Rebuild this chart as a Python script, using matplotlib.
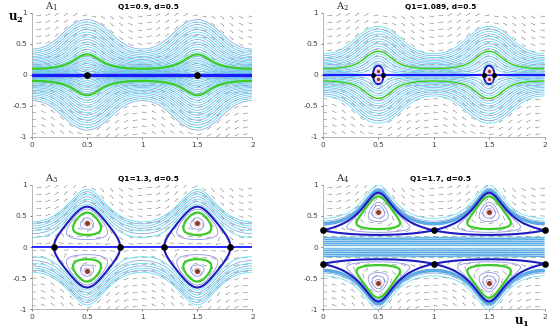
import numpy as np
import matplotlib.pyplot as plt

plt.rcParams["mathtext.fontset"] = "dejavuserif"
plt.rcParams["contour.negative_linestyle"] = "solid"

q1_values = ["0.9", "1.089", "1.3", "1.7"]
d_value = "0.5"

# coefficients of the first integral H(u1, u2) used for each panel
alpha = [0.62, 0.478, -0.0487, -0.265]
beta1 = [0.559, 0.5, 0.1575, 0.0]
beta2 = [0.0, 0.0, 0.512, 0.692]
damp = [6.47, 6.47, 6.49, 2.0]

# starting heights (u2 at u1=0.5) of the plotted orbits
seeds_a1 = [0.03, 0.06, 0.09, 0.12, 0.15, 0.18, 0.21, 0.24, 0.27, 0.30, 0.37, 0.41,
            0.45, 0.49, 0.53, 0.57, 0.61, 0.65, 0.69, 0.73, 0.77, 0.81, 0.85, 0.89]
seeds_a2 = [0.18, 0.22, 0.26, 0.30, 0.34, 0.42, 0.46, 0.50, 0.54, 0.58, 0.62,
            0.66, 0.70, 0.74, 0.78]
seeds_a3 = [0.69, 0.73, 0.77, 0.81, 0.85, 0.89, 0.93]
seeds_a4 = [0.90, 0.95, 1.0]
inner_a3 = [0.42, 0.47, 0.61]
inner_a4 = [0.62, 0.67, 0.72, 0.85]
middle_a4 = [0.03, 0.06, 0.09, 0.12, 0.15]   # u2 at u1=0
green_seeds = [0.33, 0.38, 0.555, 0.815]
separatrix_pts = [None, (0.5, 0.0), (0.5, 0.65), (0.0, 0.27)]

# equilibria
saddles = [
    [(0.5, 0), (1.5, 0)],
    [(0.455, 0), (0.545, 0), (1.455, 0), (1.545, 0)],
    [(0.2, 0), (0.8, 0), (1.2, 0), (1.8, 0)],
    [(0, 0.27), (1, 0.27), (2, 0.27), (0, -0.27), (1, -0.27), (2, -0.27)],
]
centers = [
    [],
    [(0.5, 0.07), (0.5, -0.07), (1.5, 0.07), (1.5, -0.07)],
    [(0.5, 0.38), (0.5, -0.38), (1.5, 0.38), (1.5, -0.38)],
    [(0.5, 0.57), (0.5, -0.57), (1.5, 0.57), (1.5, -0.57)],
]
dot_size = [3.8, 2.6, 3.8, 3.8]

outer_seeds = [seeds_a1, seeds_a2, seeds_a3, seeds_a4]
inner_seeds = [[], [], inner_a3, inner_a4]


def energy(u1, u2, i):
    p = u2 ** 2
    cs = np.cos(2 * np.pi * u1)
    return p * (p * (1 + beta2[i] * cs) + alpha[i] + beta1[i] * cs) / (1 + damp[i] * p)


positions = [
    [0.058, 0.584, 0.401, 0.377],
    [0.587, 0.584, 0.403, 0.377],
    [0.058, 0.060, 0.401, 0.378],
    [0.587, 0.060, 0.403, 0.378],
]

fig = plt.figure(figsize=(5.5, 3.29), dpi=100)

g1 = np.linspace(0, 2, 800)
g2 = np.linspace(-1, 1, 600)
U1, U2 = np.meshgrid(g1, g2)

q1 = np.linspace(0.04, 1.96, 24)
q2 = np.linspace(-0.95, 0.95, 18)
Q1g, Q2g = np.meshgrid(q1, q2)

for i in range(4):
    ax = fig.add_axes(positions[i])
    H = energy(U1, U2, i)

    # direction field
    eps = 1e-4
    du1 = (energy(Q1g, Q2g + eps, i) - energy(Q1g, Q2g - eps, i)) / (2 * eps)
    du2 = -(energy(Q1g + eps, Q2g, i) - energy(Q1g - eps, Q2g, i)) / (2 * eps)
    L = np.hypot(du1 * 110, du2 * 62) + 1e-12
    ax.quiver(Q1g, Q2g, 5 * du1 / L, 5 * du2 / L, angles="xy", scale_units="xy",
              scale=1, color="#7a7a7a", width=0.0022, headwidth=3, headlength=3,
              headaxislength=2.5, zorder=1)

    if i == 3:
        ax.axhspan(-0.18, 0.18, color="#dcf6fa", zorder=0.5, lw=0)

    # ordinary orbits
    lv = sorted(set(float(energy(0.5, s, i)) for s in outer_seeds[i]))
    cols = ["#52dcf0" if k % 2 == 0 else "#7ea6e0" for k in range(len(lv))]
    ax.contour(U1, U2, H, levels=lv, colors=cols,
               linewidths=0.55 if i != 3 else 0.5, zorder=2)

    if inner_seeds[i]:
        lv = sorted(set(float(energy(0.5, s, i)) for s in inner_seeds[i]))
        ax.contour(U1, U2, H, levels=lv, colors="#8c95e0", linewidths=0.6, zorder=2)
    if i == 3:
        lv = sorted(set(float(energy(0.0, s, i)) for s in middle_a4))
        ax.contour(U1, U2, H, levels=lv, colors="#5aa8e4", linewidths=0.9, zorder=2)

    # highlighted orbit
    gl = float(energy(0.5, green_seeds[i], i))
    ax.contour(U1, U2, H, levels=[gl], colors="#3ccc28",
               linewidths=1.6 if i != 1 else 1.1, zorder=3)

    # separatrices
    if separatrix_pts[i] is not None:
        if i == 3:
            sl = float(energy(*separatrix_pts[i], i))
        else:
            sl = 0.0
        ax.contour(U1, U2, H, levels=[sl], colors="#1c1cc0",
                   linewidths=1.5, zorder=4)
    if i == 0:
        ax.axhline(0, color="#1a1aff", lw=2.4, zorder=4)
    elif i == 1:
        ax.axhline(0, color="#1a1aff", lw=1.6, zorder=4)
    elif i == 2:
        ax.axhline(0, color="#1a1aff", lw=1.3, zorder=4)

    for (x, y) in centers[i]:
        ax.plot(x, y, "s", ms=dot_size[i] + 1.2, color="#f6cde6", zorder=5, mec="none")
        ax.plot(x, y, "o", ms=dot_size[i] - 0.3, color="#8a3a10", zorder=6, mec="none")
    for (x, y) in saddles[i]:
        ax.plot(x, y, "o", ms=dot_size[i], color="black", zorder=6, clip_on=False)

    ax.set_xlim(0, 2)
    ax.set_ylim(-1, 1)
    ax.set_xticks([0, 0.5, 1, 1.5, 2])
    ax.set_xticklabels(["0", "0.5", "1", "1.5", "2"])
    ax.set_yticks([-1, -0.5, 0, 0.5, 1])
    ax.set_yticklabels(["-1", "-0.5", "0", "0.5", "1"])
    ax.tick_params(labelsize=5.4, length=1.5, width=0.5, colors="#444444", pad=2)
    for side in ["top", "right"]:
        ax.spines[side].set_visible(False)
    for side in ["left", "bottom"]:
        ax.spines[side].set_color("#aaaaaa")
        ax.spines[side].set_linewidth(0.6)

    ax.set_title(f"Q1={q1_values[i]}, d={d_value}", fontsize=5.3,
                 fontweight="bold", pad=3, x=0.53)
    ax.text(0.06, 1.03, r"$\mathrm{A}_{%d}$" % (i + 1), transform=ax.transAxes,
            fontsize=7, color="#222222")

fig.text(0.014, 0.935, r"$\mathbf{u}_\mathbf{2}$", fontsize=8.5)
fig.text(0.935, 0.012, r"$\mathbf{u}_\mathbf{1}$", fontsize=8.5)

fig.savefig("out.png", dpi=100)
